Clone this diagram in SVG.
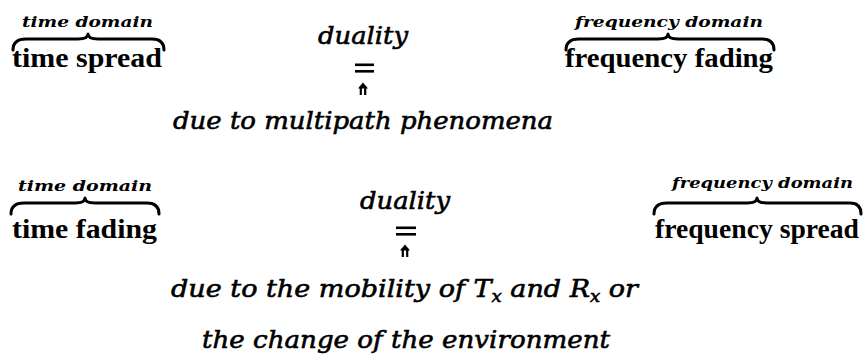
<svg xmlns="http://www.w3.org/2000/svg" width="868" height="358" viewBox="0 0 868 358">
<defs>
<g id="uparr">
<path d="M-2.2,12 V3.5 M2.2,12 V3.5" fill="none" stroke="#000" stroke-width="2.2"/>
<path d="M-5,5.5 L0,-0.5 L5,5.5 Z" fill="#000"/>
</g>
</defs>
<style>
.lab{font-family:"DejaVu Serif","Liberation Serif",serif;font-style:italic;font-weight:bold;font-size:15px;fill:#000}
.main{font-family:"Liberation Serif","DejaVu Serif",serif;font-weight:bold;font-size:27px;fill:#000}
.it{font-family:"DejaVu Serif","Liberation Serif",serif;font-style:italic;font-size:24px;fill:#000;stroke:#000;stroke-width:0.6}
.brace{fill:none;stroke:#000;stroke-width:3;stroke-linecap:round;stroke-linejoin:round}
</style>
<rect width="868" height="358" fill="#fff"/>

<g id="row1-left">
<text class="lab" x="22" y="27" textLength="131" lengthAdjust="spacingAndGlyphs">time domain</text>
<path class="brace" d="M13,50 Q13,39 26,39 L78,39 Q88,39 88,34 Q88,39 98,39 L152,39 Q164,39 164,50"/>
<text class="main" x="12" y="67" textLength="150" lengthAdjust="spacingAndGlyphs">time spread</text>
</g>

<g id="row1-center">
<text class="it" x="318" y="44" textLength="90" lengthAdjust="spacingAndGlyphs">duality</text>
<rect x="355" y="63.5" width="19" height="2.6"/>
<rect x="355" y="70" width="19" height="2.6"/>
<use href="#uparr" x="363" y="83"/>
<text class="it" x="173" y="129" textLength="380" lengthAdjust="spacingAndGlyphs">due to multipath phenomena</text>
</g>

<g id="row1-right">
<text class="lab" x="575" y="27" textLength="188" lengthAdjust="spacingAndGlyphs">frequency domain</text>
<path class="brace" d="M566,50 Q566,39 579,39 L658,39 Q668,39 668,34 Q668,39 678,39 L762,39 Q774,39 774,50"/>
<text class="main" x="565" y="67" textLength="208" lengthAdjust="spacingAndGlyphs">frequency fading</text>
</g>

<g id="row2-left">
<text class="lab" x="18" y="191" textLength="134" lengthAdjust="spacingAndGlyphs">time domain</text>
<path class="brace" d="M11,214 Q11,203 24,203 L75,203 Q85,203 85,198 Q85,203 95,203 L147,203 Q159,203 159,214"/>
<text class="main" x="12" y="238" textLength="145" lengthAdjust="spacingAndGlyphs">time fading</text>
</g>

<g id="row2-center">
<text class="it" x="360" y="209" textLength="90" lengthAdjust="spacingAndGlyphs">duality</text>
<rect x="396" y="226.5" width="20" height="2.6"/>
<rect x="396" y="233" width="20" height="2.6"/>
<use href="#uparr" x="405" y="245"/>
<text class="it" x="171" y="297" textLength="467" lengthAdjust="spacingAndGlyphs">due to the mobility of T<tspan dy="5" font-size="16">x</tspan><tspan dy="-5"> and R</tspan><tspan dy="5" font-size="16">x</tspan><tspan dy="-5"> or</tspan></text>
<text class="it" x="202" y="348" textLength="408" lengthAdjust="spacingAndGlyphs">the change of the environment</text>
</g>

<g id="row2-right">
<text class="lab" x="672" y="188" textLength="181" lengthAdjust="spacingAndGlyphs">frequency domain</text>
<path class="brace" d="M654,214 Q654,203 667,203 L747,203 Q757,203 757,198 Q757,203 767,203 L850,203 Q861,203 861,214"/>
<text class="main" x="655" y="238" textLength="204" lengthAdjust="spacingAndGlyphs">frequency spread</text>
</g>
</svg>
